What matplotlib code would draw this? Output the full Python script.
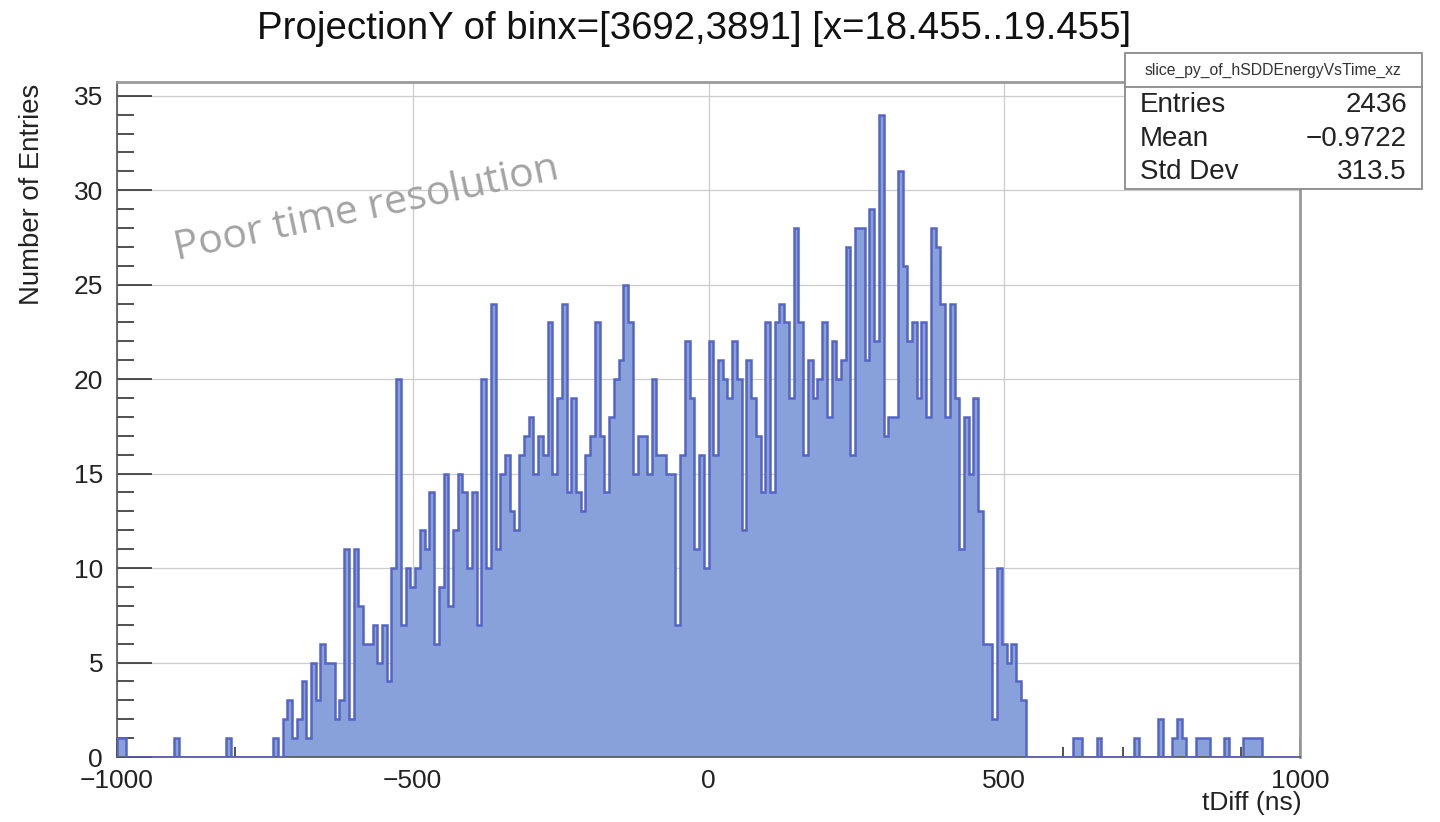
import numpy as np
import matplotlib
matplotlib.use("Agg")
import matplotlib.pyplot as plt
from matplotlib.patches import Rectangle
from matplotlib.lines import Line2D
from matplotlib.ticker import MultipleLocator

plt.rcParams['font.family'] = ['Liberation Sans', 'DejaVu Sans']

# 250 bins of 8 ns between -1000 and 1000
n_bins = 250
t_min, t_max = -1000, 1000

# contiguous block of bin contents, first bin starts at -736 ns
core_start = -736
core_counts = [
    1, 0, 2, 3, 1, 2, 4, 1,
    5, 3, 6, 5, 5, 2, 3, 11,
    2, 11, 8, 6, 6, 7, 5, 7,
    4, 10, 20, 7, 10, 9, 10, 12,
    11, 14, 6, 9, 15, 8, 12, 15,
    14, 10, 14, 7, 20, 10, 24, 11,
    15, 16, 13, 12, 16, 17, 18, 15,
    17, 16, 23, 15, 19, 24, 14, 19,
    14, 13, 16, 17, 23, 17, 14, 18,
    20, 21, 25, 23, 15, 17, 17, 15,
    20, 16, 16, 15, 15, 7, 16, 22,
    19, 11, 16, 10, 22, 16, 21, 20,
    19, 22, 20, 12, 21, 19, 17, 14,
    23, 14, 23, 24, 23, 19, 28, 23,
    16, 21, 19, 20, 23, 18, 22, 20,
    21, 27, 16, 28, 28, 21, 29, 22,
    34, 17, 18, 18, 31, 26, 22, 23,
    19, 23, 18, 28, 27, 24, 18, 24,
    19, 11, 18, 15, 19, 13, 6, 6,
    2, 10, 6, 5, 6, 4, 3,
]

# isolated entries in the tails: (bin low edge, count)
tail_left = [(-1000, 1), (-992, 1), (-904, 1), (-816, 1)]
tail_right = [(616, 1), (624, 1), (656, 1), (720, 1), (760, 2), (784, 1),
              (792, 2), (800, 1), (824, 1), (832, 1), (840, 1), (872, 1),
              (904, 1), (912, 1), (920, 1), (928, 1)]

title = "ProjectionY of binx=[3692,3891] [x=18.455..19.455]"
stats_name = "slice_py_of_hSDDEnergyVsTime_xz"
stats_rows = [("Entries", "2436"), ("Mean", "\u22120.9722"), ("Std Dev", "313.5")]

edges = np.linspace(t_min, t_max, n_bins + 1)
width = (t_max - t_min) / n_bins
counts = np.zeros(n_bins)
i0 = int(round((core_start - t_min) / width))
counts[i0:i0 + len(core_counts)] = core_counts
for lo, c in tail_left + tail_right:
    counts[int(round((lo - t_min) / width))] = c

W, H = 1440, 822
fig = plt.figure(figsize=(W / 100, H / 100), dpi=100)
fig.patch.set_facecolor('white')

px_l, px_r, px_b, px_t = 117, 1300, 757, 82.5
ax = fig.add_axes([px_l / W, 1 - px_b / H, (px_r - px_l) / W, (px_b - px_t) / H])

fill_col = '#88a1da'
line_col = '#5565c4'
ax.stairs(counts, edges, fill=True, color=fill_col, zorder=2)
ax.stairs(counts, edges, color=line_col, lw=1.8, zorder=3)

ax.set_xlim(t_min, t_max)
ax.set_ylim(0, 35.7)
ax.set_axisbelow(True)
ax.grid(True, which='major', color='#cccccc', lw=0.9)

ax.xaxis.set_major_locator(MultipleLocator(500))
ax.xaxis.set_minor_locator(MultipleLocator(100))
ax.yaxis.set_major_locator(MultipleLocator(5))
ax.yaxis.set_minor_locator(MultipleLocator(1))

ax.tick_params(axis='both', which='both', direction='in', top=False, right=False,
               colors='#333333', labelsize=19, width=1.2)
ax.tick_params(axis='y', which='major', length=25, pad=10)
ax.tick_params(axis='y', which='minor', length=12)
ax.tick_params(axis='x', which='major', length=14, pad=8.5)
ax.tick_params(axis='x', which='minor', length=7)
for lab in ax.get_xticklabels() + ax.get_yticklabels():
    lab.set_color('#222222')

for side in ['left', 'bottom']:
    ax.spines[side].set_color('#555555')
    ax.spines[side].set_linewidth(1.2)
for side in ['top', 'right']:
    ax.spines[side].set_color('#9a9a9a')
    ax.spines[side].set_linewidth(2.0)

fig.text(694 / W, 1 - 29 / H, title, ha='center', va='center', fontsize=27.6, color='#111111')
fig.text(32 / W, 1 - 194 / H, "Number of Entries", rotation=90, ha='center', va='center',
         fontsize=19.8, color='#222222')
fig.text(1302 / W, 1 - 803 / H, "tDiff (ns)", ha='right', va='center', fontsize=19, color='#222222')

# annotation
fig.text(367 / W, 1 - 209 / H, "Poor time resolution", rotation=12, rotation_mode='anchor',
         ha='center', va='center', fontsize=29.5, color='#a3a3a3', family=['Open Sans', 'DejaVu Sans'])

# stats box
bx0, bx1, by0, by1 = 1125, 1422, 53, 189
fig.patches.append(Rectangle((bx0 / W, 1 - by1 / H), (bx1 - bx0) / W, (by1 - by0) / H,
                             transform=fig.transFigure, facecolor='white', edgecolor='#8a8a8a',
                             lw=1.3, zorder=5))
fig.lines.append(Line2D([bx0 / W, bx1 / W], [1 - 87 / H, 1 - 87 / H], transform=fig.transFigure,
                        color='#8a8a8a', lw=1.3, zorder=6))
fig.text((bx0 + bx1) / 2 / W, 1 - 70 / H, stats_name, ha='center', va='center', fontsize=11.3,
         color='#333333', zorder=7)
for k, (name, val) in enumerate(stats_rows):
    y = 1 - (105 + 33.5 * k) / H
    fig.text(1140 / W, y, name, ha='left', va='center', fontsize=20, color='#222222', zorder=7)
    fig.text(1407 / W, y, val, ha='right', va='center', fontsize=20, color='#222222', zorder=7)

fig.savefig('out.png', dpi=100)
